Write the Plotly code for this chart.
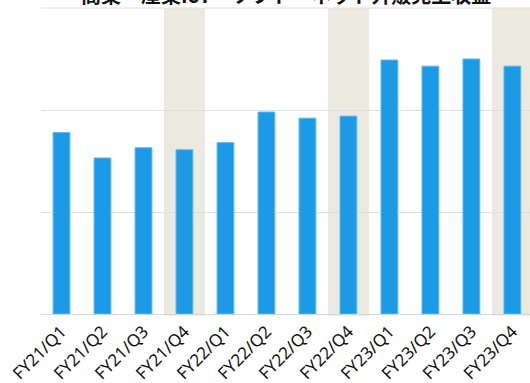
import plotly.graph_objects as go

categories = ["FY21/Q1", "FY21/Q2", "FY21/Q3", "FY21/Q4",
              "FY22/Q1", "FY22/Q2", "FY22/Q3", "FY22/Q4",
              "FY23/Q1", "FY23/Q2", "FY23/Q3", "FY23/Q4"]
revenue = [178, 153, 163, 161, 168, 198, 192, 194, 249, 243, 250, 243]
highlight = ["FY21/Q4", "FY22/Q4", "FY23/Q4"]
title_text = "商業・産業IoT・ソフト・ネット外販売上収益"

fig = go.Figure()
fig.add_trace(go.Bar(
    x=list(range(len(categories))), y=revenue,
    marker=dict(color="#1c9ae6", line=dict(color="#5db8ee", width=1)),
    width=0.41, hoverinfo="skip",
))

for c in highlight:
    i = categories.index(c)
    fig.add_shape(type="rect", xref="x", yref="paper", x0=i - 0.5, x1=i + 0.5,
                  y0=-0.006, y1=1, fillcolor="#ecEAE0", line=dict(width=0),
                  layer="below")

# top gridline at the upper edge of the plot area
fig.add_shape(type="line", xref="paper", yref="paper", x0=0, x1=1, y0=1, y1=1,
              line=dict(color="#dedede", width=1), layer="below")

fig.update_layout(
    width=530, height=383,
    margin=dict(l=41, r=0, t=8, b=69, autoexpand=False),
    paper_bgcolor="white", plot_bgcolor="rgba(0,0,0,0)",
    showlegend=False,
    font=dict(family="Noto Sans, sans-serif", color="#111"),
    annotations=[dict(text="<b>" + title_text + "</b>", xref="paper", yref="paper",
                      x=0.5, y=1, yshift=-3, xanchor="center", yanchor="bottom",
                      showarrow=False, font=dict(size=20, color="#111",
                                                 family="Noto Sans CJK JP"))],
)
fig.update_xaxes(
    tickmode="array", tickvals=list(range(len(categories))), ticktext=categories,
    range=[-0.5, 11.43], tickangle=-45, tickfont=dict(size=17, color="#111"),
    showgrid=False, showline=True, linecolor="#d6d6d6", linewidth=1, ticks="",
    zeroline=False, automargin=False,
)
fig.update_yaxes(
    range=[0, 300], dtick=100, showticklabels=False, showgrid=True,
    gridcolor="#dedede", gridwidth=1, zeroline=False, showline=False,
    automargin=False,
)
fig.write_html("out.html")
